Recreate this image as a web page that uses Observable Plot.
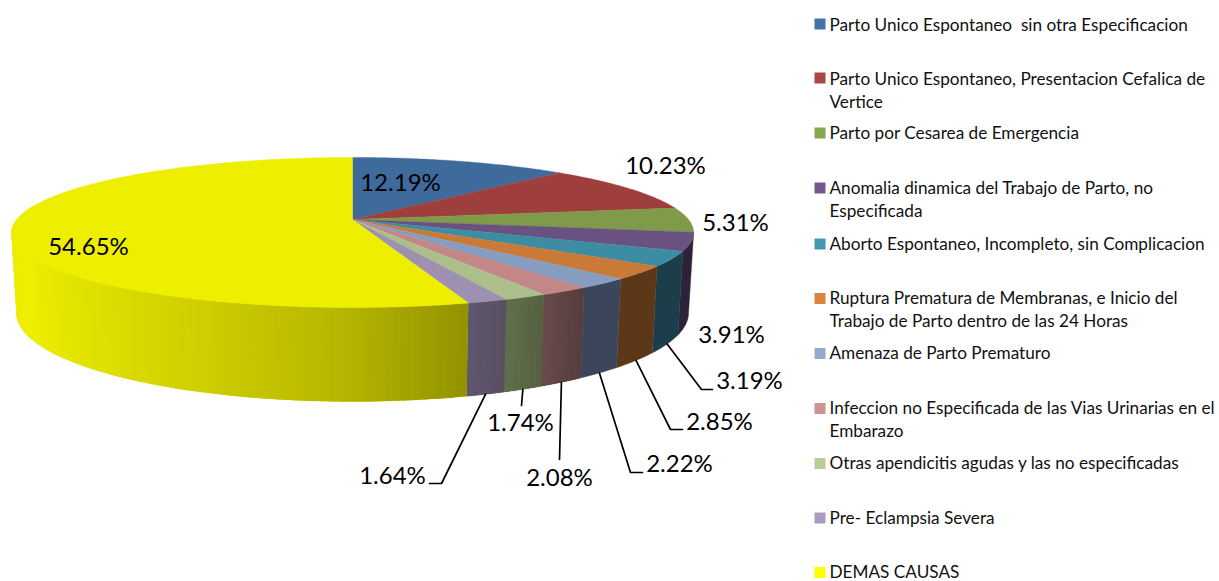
<!DOCTYPE html>
<html>
<head>
<meta charset="utf-8">
<script src="https://cdn.jsdelivr.net/npm/d3@7"></script>
<script src="https://cdn.jsdelivr.net/npm/@observablehq/plot@0.6"></script>
<style>html,body{margin:0;padding:0;background:#fff;overflow:hidden}</style>
</head>
<body>
<div id="chart"></div>
<script>
// ---- data ----
const categories = [
  ["Parto Unico Espontaneo  sin otra Especificacion"],
  ["Parto Unico Espontaneo, Presentacion Cefalica de", "Vertice"],
  ["Parto por Cesarea de Emergencia"],
  ["Anomalia dinamica del Trabajo de Parto, no", "Especificada"],
  ["Aborto Espontaneo, Incompleto, sin Complicacion"],
  ["Ruptura Prematura de Membranas, e Inicio del", "Trabajo de Parto dentro de las 24 Horas"],
  ["Amenaza de Parto Prematuro"],
  ["Infeccion no Especificada de las Vias Urinarias en el", "Embarazo"],
  ["Otras apendicitis agudas y las no especificadas"],
  ["Pre- Eclampsia Severa"],
  ["DEMAS CAUSAS"]
];
const values = [12.19, 10.23, 5.31, 3.91, 3.19, 2.85, 2.22, 2.08, 1.74, 1.64, 54.65];
const labels = values.map(v => v.toFixed(2) + "%");

// ---- styles ----
const legendColors = ["#4572a7","#aa4643","#89a54e","#71588f","#4198af","#db843d","#93a9cf","#d19392","#b9cd96","#a99bbd","#ffff00"];
const topColors = ["#3f6a9c","#9e3f3e","#7f9a49","#69527f","#3c8da3","#c97a36","#879dc0","#c28786","#acbf8b","#9d90b0","#eeee00"];
const wallRamps = [
  ["#2a4666","#2a4666"],["#672928","#672928"],["#53652f","#53652f"],
  ["#2d2339","#2d2339"],["#1b3e4a","#1b3e4a"],["#5c3718","#5c3718"],["#3c465a","#3c465a"],
  ["#553d3d","#6b4a4a"],["#55603f","#5f6f4c"],["#5a5060","#5e5570"],
  ["#929200","#b8b800","#cfcf00","#e0e000","#eeee00","#eeee00"]
];

// ---- layout ----
const W = 1219, H = 581;
const top3d = {cx: 352, cy: 219, rx: 336, ry: 72.8};
const bottom3d = {cx: 352, cy: 297, rx: 331, ry: 86};
const persp = 0.173;
const wallFrom = 100, wallTo = 262;
const labelPos = [[400,183],[665,166],[735,223],[731,335],[749,381],[719,422],[679,464],[559,478],[520,423],[392,476],[88,247]];
const elbows = [null,null,null,null,[[701,389],[712,389]],[[670,429],[682,429]],[[630,472],[642,472]],[[559,459]],[[521,405]],[[441,483],[429,483]],null];
const legendX = 829, swatchX = 819.5;
const legendY = [25,79,133,188,244,298,353,408,463,518,572];
const swatchY = [23.5,77.5,132.5,187.5,243.5,298,353,408,463,517.5,572];
const lineGap = 22.5;
const font = "Lato";

// ---- geometry from values ----
function project(p, deg) {
  const t = deg * Math.PI / 180, u = Math.sin(t), v = -Math.cos(t), d = 1 - persp * v;
  return {x: p.cx + p.rx * u / d, y: p.cy + p.ry * v / d};
}
const total = d3.sum(values);
let acc = 0;
const slices = values.map((v, i) => {
  const a0 = acc / total * 360; acc += v;
  return {i, a0, a1: acc / total * 360, mid: (a0 + acc / total * 360) / 2};
});

const topPts = [], wallPts = [], stripPts = [];
for (const s of slices) {
  topPts.push({id: s.i, x: top3d.cx, y: top3d.cy, c: topColors[s.i]});
  const n = Math.ceil(s.a1 - s.a0) * 2;
  for (let k = 0; k <= n; k++) {
    topPts.push({id: s.i, ...project(top3d, s.a0 + (s.a1 - s.a0) * k / n), c: topColors[s.i]});
  }
  topPts.push({id: s.i, x: top3d.cx, y: top3d.cy, c: topColors[s.i]});

  const a0 = Math.max(s.a0, wallFrom), a1 = Math.min(s.a1, wallTo);
  if (a1 > a0) {
    const ramp = d3.piecewise(d3.interpolateRgb, wallRamps[s.i]);
    const m = Math.max(1, Math.ceil(a1 - a0));
    // one solid wall shape per slice
    const at = k => a0 + (a1 - a0) * k / m;
    const wallColor = ramp(0.5);
    const outline = [];
    for (let k = 0; k <= m; k++) outline.push(project(top3d, at(k)));
    for (let k = m; k >= 0; k--) outline.push(project(bottom3d, at(k)));
    outline.push(outline[0]);
    outline.forEach(q => wallPts.push({id: s.i, ...q, c: wallColor}));
    // shading strips only where the slice's wall has a gradient
    if (wallRamps[s.i][0] !== wallRamps[s.i][1]) {
      for (let k = 0; k < m; k++) {
        const b1 = Math.min(a1, at(k + 1) + 0.5), c = ramp((k + 0.5) / m), id = s.i + "-" + k;
        for (const q of [project(top3d, at(k)), project(top3d, b1), project(bottom3d, b1), project(bottom3d, at(k)), project(top3d, at(k))]) {
          stripPts.push({id, ...q, c});
        }
      }
    }
  }
}

const leaders = [];
slices.forEach(s => {
  if (!elbows[s.i]) return;
  leaders.push({id: s.i, ...project(bottom3d, s.mid)});
  elbows[s.i].forEach(([x, y]) => leaders.push({id: s.i, x, y}));
});

const legendLines = categories.flatMap((lines, i) => lines.map((text, k) => ({text, y: legendY[i] + k * lineGap})));
const swatches = categories.map((c, i) => ({y: swatchY[i], color: legendColors[i]}));
const labelRows = labels.map((t, i) => ({t, x: labelPos[i][0], y: labelPos[i][1]}));

const chart = Plot.plot({
  width: W, height: H,
  marginTop: 0, marginRight: 0, marginBottom: 0, marginLeft: 0,
  x: {domain: [0, W], range: [0, W], axis: null},
  y: {domain: [0, H], range: [0, H], axis: null},
  color: {type: "identity"},
  style: {background: "#fff", fontFamily: font},
  marks: [
    Plot.line(wallPts, {x: "x", y: "y", z: "id", fill: "c", stroke: "c", strokeWidth: 0.4, curve: "linear"}),
    Plot.line(stripPts, {x: "x", y: "y", z: "id", fill: "c", stroke: "none", curve: "linear"}),
    Plot.line(topPts, {x: "x", y: "y", z: "id", fill: "c", stroke: "c", strokeWidth: 0.4, curve: "linear"}),
    Plot.line(leaders, {x: "x", y: "y", z: "id", stroke: "#000", strokeWidth: 1.7, curve: "linear", strokeLinejoin: "miter"}),
    Plot.text(labelRows, {x: "x", y: "y", text: "t", fontSize: 24, fill: "#000", fontFamily: font}),
    Plot.dot(swatches, {x: () => swatchX, y: "y", symbol: "square", r: 6.2, fill: "color", stroke: "none"}),
    Plot.text(legendLines, {x: () => legendX, y: "y", text: "text", textAnchor: "start",
      fontSize: 17.2, fill: "#111", fontFamily: font, style: "white-space:pre"})
  ]
});
chart.querySelectorAll("text").forEach(t => t.setAttribute("xml:space", "preserve"));
document.getElementById("chart").appendChild(chart);
</script>
</body>
</html>
